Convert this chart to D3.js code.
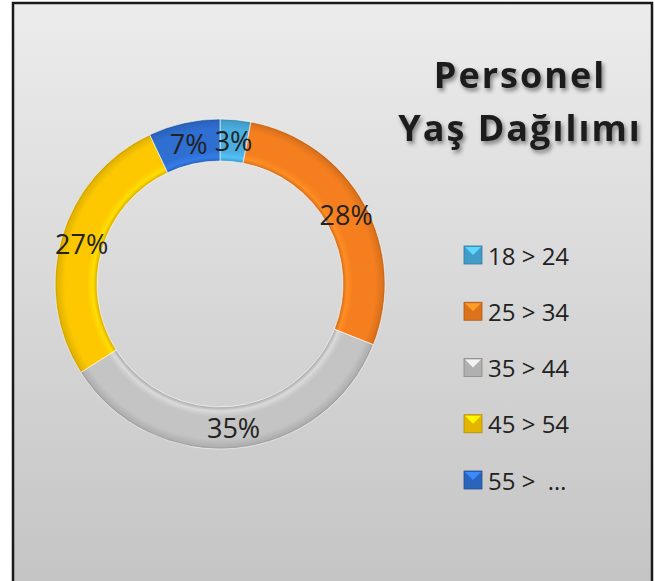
<!DOCTYPE html>
<html>
<head>
<meta charset="utf-8">
<script src="https://cdn.jsdelivr.net/npm/d3@7"></script>
<style>
html,body{margin:0;padding:0;background:#fff;}
svg{display:block;}
</style>
</head>
<body>
<svg id="chart" width="655" height="581"></svg>
<script>
const categories = ["18 > 24", "25 > 34", "35 > 44", "45 > 54", "55 >  …"];
const values = [3, 28, 35, 27, 7];
const colors = ["#4aaee0", "#f57f1f", "#c4c4c4", "#fdc800", "#2f6fd2"];
const titleLines = ["Personel", "Yaş Dağılımı"];

const svg = d3.select("#chart");
const defs = svg.append("defs");

// background gradient
const bg = defs.append("linearGradient").attr("id","bg").attr("x1",0).attr("y1",0).attr("x2",0).attr("y2",1);
bg.append("stop").attr("offset","0%").attr("stop-color","#ececec");
bg.append("stop").attr("offset","100%").attr("stop-color","#c3c3c3");

svg.append("rect").attr("x",13).attr("y",3).attr("width",639).attr("height",600)
  .attr("fill","url(#bg)").attr("stroke","#1a1a1a").attr("stroke-width",2.5);

// drop shadow filter for title
const f = defs.append("filter").attr("id","shadow").attr("x","-20%").attr("y","-20%").attr("width","140%").attr("height","160%");
f.append("feDropShadow").attr("dx",2).attr("dy",3).attr("stdDeviation",2.2).attr("flood-color","#000").attr("flood-opacity",0.45);

const cx = 220, cy = 284, rOuter = 165, rInner = 123;

// radial bevel gradients per color (in the translated group's coordinates)
colors.forEach((c,i)=>{
  const g = defs.append("radialGradient").attr("id","rg"+i).attr("gradientUnits","userSpaceOnUse")
    .attr("cx",0).attr("cy",0).attr("r",rOuter);
  const base = d3.color(c);
  const frac = rInner/rOuter;
  g.append("stop").attr("offset",frac).attr("stop-color",base.darker(0.4));
  g.append("stop").attr("offset",frac+0.025).attr("stop-color",base.brighter(0.3));
  g.append("stop").attr("offset",frac+0.06).attr("stop-color",base);
  g.append("stop").attr("offset",0.94).attr("stop-color",base);
  g.append("stop").attr("offset",0.985).attr("stop-color",base.darker(0.3));
  g.append("stop").attr("offset",1).attr("stop-color",base.darker(0.7));
});

const pie = d3.pie().sort(null).value(d=>d)(values);
const arc = d3.arc().innerRadius(rInner).outerRadius(rOuter);
const total = d3.sum(values);

const g = svg.append("g").attr("transform",`translate(${cx},${cy})`);
g.selectAll("path.slice").data(pie).join("path").attr("class","slice")
  .attr("d",arc)
  .attr("fill",(d,i)=>`url(#rg${i})`)
  .attr("stroke","rgba(255,255,255,0.6)").attr("stroke-width",1);

g.selectAll("text.lbl").data(pie).join("text").attr("class","lbl")
  .attr("transform",d=>`translate(${arc.centroid(d)})`)
  .attr("text-anchor","middle").attr("dominant-baseline","central")
  .attr("font-family","'Open Sans', sans-serif").attr("font-size",27)
  .attr("fill","#222")
  .text(d=>Math.round(d.data/total*100)+"%");

// title
const tg = svg.append("g").attr("filter","url(#shadow)");
titleLines.forEach((t,i)=>{
  tg.append("text").attr("x",520).attr("y",88+i*53)
    .attr("text-anchor","middle")
    .attr("font-family","'Open Sans', sans-serif").attr("font-weight","bold")
    .attr("font-size",36).attr("letter-spacing",2).attr("fill","#1c1c1c")
    .text(t);
});

// legend
const legY = d3.scalePoint().domain(categories).range([255,480]);
const lg = svg.append("g");
const items = lg.selectAll("g.item").data(categories).join("g").attr("class","item")
  .attr("transform",d=>`translate(464,${legY(d)})`);
const s = 18;
items.append("rect").attr("x",0).attr("y",-s/2).attr("width",s).attr("height",s)
  .attr("fill",(d,i)=>d3.color(colors[i]).darker(0.3)).attr("stroke",(d,i)=>d3.color(colors[i]).darker(1)).attr("stroke-width",0.8);
items.append("path").attr("d",`M1,${-s/2+1} L${s-1},${-s/2+1} L${s/2},0 Z`)
  .attr("fill",(d,i)=>d3.color(colors[i]).brighter(0.6));
items.append("text").attr("x",24).attr("y",0).attr("dominant-baseline","central")
  .attr("font-family","'Open Sans', sans-serif").attr("font-size",24).attr("fill","#222")
  .style("white-space","pre")
  .text(d=>d);
</script>
</body>
</html>
